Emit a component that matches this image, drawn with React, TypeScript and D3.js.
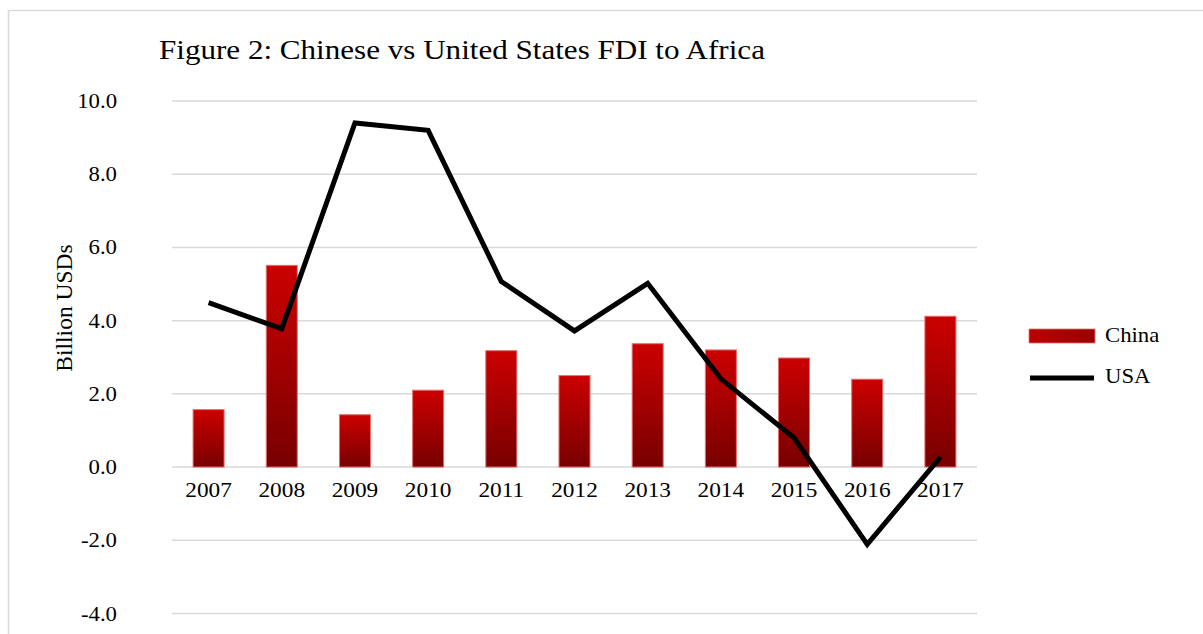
import React from "react";
import * as d3 from "d3";

const years = ["2007", "2008", "2009", "2010", "2011", "2012", "2013", "2014", "2015", "2016", "2017"];
const china = [1.57, 5.51, 1.43, 2.1, 3.18, 2.5, 3.37, 3.2, 2.98, 2.4, 4.12];
const usa = [4.49, 3.78, 9.4, 9.2, 5.07, 3.72, 5.02, 2.41, 0.8, -2.11, 0.27];
const yTicks = [-4, -2, 0, 2, 4, 6, 8, 10];
const seriesNames = ["China", "USA"];
const titleText = "Figure 2: Chinese vs United States FDI to Africa";
const yAxisLabel = "Billion USDs";

const W = 1203;
const H = 634;
const SX = 1.11;
const FONT = "'Liberation Serif', 'Times New Roman', serif";

function SText(props: { x: number; y: number; size: number; anchor?: string; children: React.ReactNode }) {
  const { x, y, size, anchor, children } = props;
  return (
    <text
      transform={`translate(${x},${y}) scale(${SX},1)`}
      fontFamily={FONT}
      fontSize={size}
      textAnchor={anchor || "start"}
      fill="#000"
    >
      {children}
    </text>
  );
}

export default function App() {
  const x = d3.scaleBand<string>().domain(years).range([172, 977]).paddingInner(0.576).paddingOuter(0.288);
  const y = d3.scaleLinear().domain([-4, 10]).range([613.5, 101]);
  const bw = x.bandwidth();
  const cx = (yr: string) => (x(yr) as number) + bw / 2;
  const line = d3
    .line<number>()
    .x((_, i) => cx(years[i]))
    .y((d) => y(d));
  const fmt = (v: number) => d3.format(".1f")(v).replace("\u2212", "-");

  return (
    <svg width={W} height={H} style={{ position: "absolute", left: 0, top: 0, display: "block" }}>
      <defs>
        <linearGradient id="barGrad" x1="0" y1="0" x2="0" y2="1">
          <stop offset="0" stopColor="#cc0000" />
          <stop offset="1" stopColor="#770000" />
        </linearGradient>
        <linearGradient id="legGrad" x1="0" y1="0" x2="1" y2="0">
          <stop offset="0" stopColor="#bb0000" />
          <stop offset="1" stopColor="#990000" />
        </linearGradient>
      </defs>
      <rect x={0} y={0} width={W} height={H} fill="#fff" />
      <rect x={8.5} y={10.5} width={1220} height={700} fill="none" stroke="#d9d9d9" strokeWidth={1.5} />

      <SText x={159} y={59} size={28}>{titleText}</SText>

      {yTicks.map((t) => (
        <g key={t}>
          <line x1={172} x2={977} y1={y(t)} y2={y(t)} stroke="#d9d9d9" strokeWidth={1.5} />
          <SText x={117} y={y(t) + 7} size={20.5} anchor="end">{fmt(t)}</SText>
        </g>
      ))}

      <text
        transform={`translate(72,308) rotate(-90)`}
        fontFamily={FONT}
        fontSize={23.5}
        textAnchor="middle"
        fill="#000"
      >
        {yAxisLabel}
      </text>

      {years.map((yr, i) => (
        <rect
          key={yr}
          x={x(yr) as number}
          y={y(Math.max(0, china[i]))}
          width={bw}
          height={Math.abs(y(china[i]) - y(0))}
          fill="url(#barGrad)"
          stroke="#e87070"
          strokeWidth={1}
        />
      ))}

      {years.map((yr) => (
        <SText key={yr} x={cx(yr)} y={497} size={21} anchor="middle">{yr}</SText>
      ))}

      <path d={line(usa) || ""} fill="none" stroke="#000" strokeWidth={5} strokeLinejoin="miter" />

      <rect x={1029} y={329} width={66} height={14} fill="url(#legGrad)" stroke="#e87070" strokeWidth={0.8} />
      <SText x={1105} y={342} size={20.5}>{seriesNames[0]}</SText>
      <line x1={1030} x2={1094} y1={378} y2={378} stroke="#000" strokeWidth={5} />
      <SText x={1105} y={383} size={20.5}>{seriesNames[1]}</SText>
    </svg>
  );
}
